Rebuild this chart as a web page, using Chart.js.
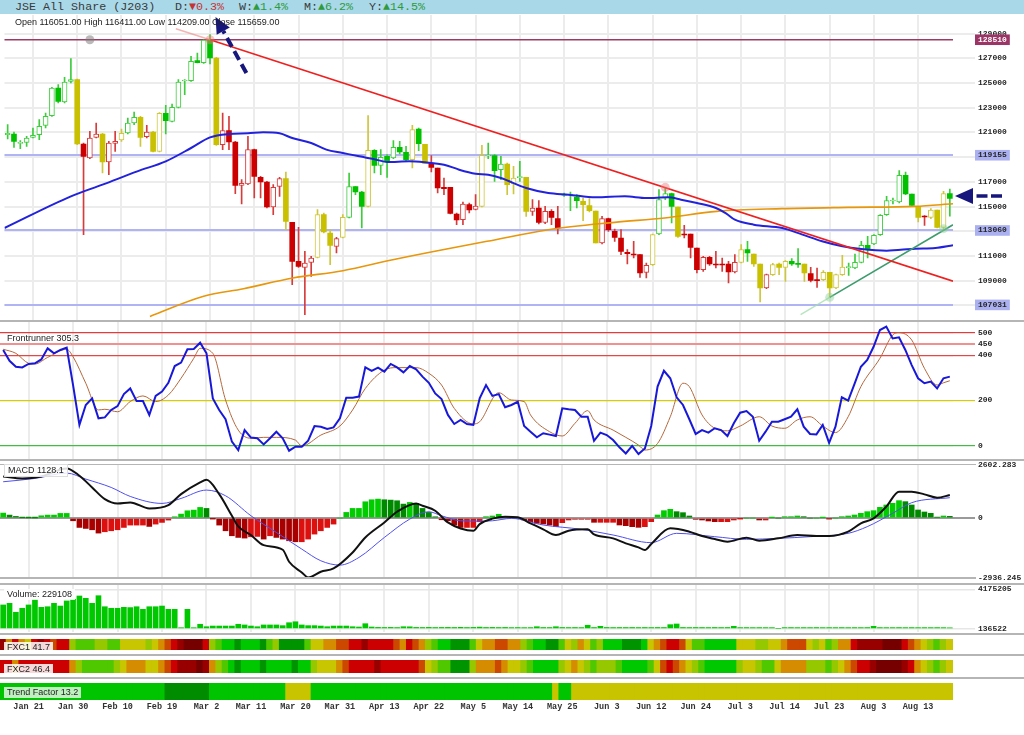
<!DOCTYPE html>
<html lang="en">
<head>
<meta charset="utf-8">
<title>JSE All Share (J203)</title>
<script src="https://cdn.jsdelivr.net/npm/chart.js@4.4.1/dist/chart.umd.min.js"></script>
<style>
  html, body { margin: 0; padding: 0; background: #fff; }
  #wrap { position: relative; width: 1024px; height: 735px; overflow: hidden; }
  #wrap canvas { position: absolute; left: 0; z-index: 2; }
  #header { position: absolute; left: 0; top: 0; width: 1024px; height: 14px; background: #a9d8e8; z-index: 5;
            font: 11.7px "Liberation Mono", "DejaVu Sans Mono", monospace; color: #3a3a3a; }
  #header > span { position: absolute; top: 0; line-height: 14px; white-space: pre; }
  #header .dn { color: #c83232; }
  #header .up { color: #2f9a3c; }
  #ohlc { position: absolute; left: 15px; top: 16px; z-index: 3; font: 9px "Liberation Sans", Arial, sans-serif;
          line-height: 12px; color: #222; white-space: pre; }
  .sep { position: absolute; left: 0; width: 1024px; height: 2px; background: #b5b5b5; z-index: 3; }
  .sep.short { width: 976px; }
  .tag { position: absolute; left: 4px; z-index: 4; padding: 0 3px; font: 9px "Liberation Sans", Arial, sans-serif;
         line-height: 11px; color: #222; white-space: pre; background: rgba(255,255,255,0.85); }
</style>
</head>
<body>
<div id="wrap">
  <div id="header"><span style="left:15px">JSE All Share (J203)</span><span style="left:175px">D:<span class="dn">▼0.3%</span></span><span style="left:239px">W:<span class="up">▲1.4%</span></span><span style="left:304px">M:<span class="up">▲6.2%</span></span><span style="left:369px">Y:<span class="up">▲14.5%</span></span></div>
  <div id="ohlc">Open 116051.00 High 116411.00 Low 114209.00 Close 115659.00</div>

  <canvas id="main"></canvas>
  <canvas id="fr"></canvas>
  <canvas id="macd"></canvas>
  <canvas id="vol"></canvas>
  <canvas id="fxc1"></canvas>
  <canvas id="fxc2"></canvas>
  <canvas id="trend"></canvas>

  <div class="sep" style="top:320px"></div>
  <div class="sep" style="top:459px"></div>
  <div class="sep short" style="top:463.5px;height:1.5px"></div>
  <div class="sep short" style="top:577px"></div>
  <div class="sep" style="top:582.5px"></div>
  <div class="sep" style="top:633px"></div>
  <div class="sep" style="top:654px"></div>
  <div class="sep" style="top:677px"></div>

  <div class="tag" style="top:333px;background:transparent">Frontrunner 305.3</div>
  <div class="tag" style="top:464px;border:1px solid #ddd">MACD 1128.1</div>
  <div class="tag" style="top:588.5px">Volume: 229108</div>
  <div class="tag" style="top:642px">FXC1 41.7</div>
  <div class="tag" style="top:664px">FXC2 46.4</div>
  <div class="tag" style="top:686.5px;background:rgba(255,255,255,0.75)">Trend Factor 13.2</div>
</div>

<script>
'use strict';

// Trading days (JSE, 2015)
// --------------------------------------------------------------------
const tradingDays = [
  ['Jan', [15, 16, 19, 20, 21, 22, 23, 26, 27, 28, 29, 30]],
  ['Feb', [2, 3, 4, 5, 6, 9, 10, 11, 12, 13, 16, 17, 18, 19, 20, 23, 24, 25, 26, 27]],
  ['Mar', [2, 3, 4, 5, 6, 9, 10, 11, 12, 13, 16, 17, 18, 19, 20, 23, 24, 25, 26, 27, 30, 31]],
  ['Apr', [1, 2, 7, 8, 9, 10, 13, 14, 15, 16, 17, 20, 21, 22, 23, 24, 28, 29, 30]],
  ['May', [4, 5, 6, 7, 8, 11, 12, 13, 14, 15, 18, 19, 20, 21, 22, 25, 26, 27, 28, 29]],
  ['Jun', [1, 2, 3, 4, 5, 8, 9, 10, 11, 12, 15, 17, 18, 19, 22, 23, 24, 25, 26, 29, 30]],
  ['Jul', [1, 2, 3, 6, 7, 8, 9, 10, 13, 14, 15, 16, 17, 20, 21, 22, 23, 24, 27, 28, 29, 30, 31]],
  ['Aug', [3, 4, 5, 6, 7, 11, 12, 13, 14, 17, 18, 19, 20]]
];
const dates = tradingDays.flatMap(([m, days]) => days.map(d => m + ' ' + d));

const tickLabels = ['Jan 21', 'Jan 30', 'Feb 10', 'Feb 19', 'Mar 2', 'Mar 11', 'Mar 20', 'Mar 31',
  'Apr 13', 'Apr 22', 'May 5', 'May 14', 'May 25', 'Jun 3', 'Jun 12', 'Jun 24', 'Jul 3',
  'Jul 14', 'Jul 23', 'Aug 3', 'Aug 13'];

// Price panel
// --------------------------------------------------------------------
const priceTicks = [107000, 109000, 111000, 113000, 115000, 117000, 119000, 121000, 123000, 125000, 127000, 129000];
const priceLevels = [128510, 119155, 113060, 107031];

const opens = [
  120820, 120874, 120118, 120199, 120604, 120820, 121576, 122359, 124600, 123466,
  125140, 125275, 120064, 118930, 120604, 120874, 118606, 120118, 120388, 120955,
  121765, 122224, 120658, 121036, 119470, 122548, 121900, 123034, 125167, 125194,
  126814, 126652, 128480, 127030, 120010, 121144, 120226, 116716, 116824, 119605,
  117364, 116986, 114961, 116635, 117256, 113719, 110560, 110074, 110479, 110884,
  114340, 112855, 111775, 112504, 114124, 116608, 116176, 115015, 119551, 118336,
  119065, 118930, 119794, 119389, 118795, 121279, 120037, 118498, 118120, 116554,
  116554, 114394, 113935, 115150, 114772, 115015, 119092, 119119, 117985, 118444,
  116824, 117337, 117364, 114610, 114880, 113719, 114610, 114016, 115906, 115933,
  115771, 115420, 115069, 114637, 112045, 114016, 112990, 112450, 111289, 111127,
  111100, 109669, 110290, 112774, 115690, 116041, 114961, 112747, 112774, 111640,
  109885, 110884, 110317, 110317, 110344, 109696, 110479, 111505, 111154, 110344,
  108400, 109480, 110344, 110074, 110560, 110371, 110344, 109561, 109048, 109075,
  109669, 108400, 109480, 110047, 110020, 110479, 111856, 111964, 112720, 114340,
  115447, 115366, 117526, 116014, 115015, 114205, 114124, 114718, 113314, 116051
];
const highs = [
  121630, 121036, 120334, 120685, 121360, 122035, 122575, 124654, 124870, 125464,
  126976, 125329, 120145, 121090, 121765, 120928, 120280, 121090, 121279, 122170,
  122656, 122305, 121576, 121090, 122602, 123196, 123304, 125275, 125275, 127165,
  127435, 128510, 128920, 127084, 122575, 122305, 120280, 117175, 120685, 119659,
  117445, 117040, 116770, 117364, 117796, 113719, 113314, 111370, 110965, 114745,
  114475, 113125, 112504, 114340, 117715, 116608, 116230, 122359, 119605, 119605,
  119200, 120334, 120280, 119875, 121576, 121360, 120037, 119119, 118120, 117310,
  116554, 114475, 115366, 115285, 115960, 119956, 120145, 119200, 119065, 118525,
  118255, 118660, 117364, 115555, 115474, 115015, 114745, 115015, 116095, 116176,
  115960, 115690, 115636, 114637, 114205, 114070, 113179, 113125, 111505, 112180,
  111100, 110425, 112774, 116365, 116554, 116095, 114961, 113476, 112774, 111640,
  110965, 110965, 111370, 110830, 110560, 111100, 111910, 112180, 111154, 110344,
  109534, 110398, 110425, 110614, 110776, 111586, 110344, 110074, 110020, 109804,
  109669, 109534, 111046, 110425, 111154, 112180, 112585, 112720, 114340, 115825,
  115690, 117904, 117796, 116014, 115015, 114259, 114826, 114718, 116230, 116411
];
const lows = [
  120469, 119794, 119686, 119875, 120550, 120415, 121360, 122305, 123385, 123385,
  125005, 120010, 112720, 118876, 120550, 117715, 117580, 119470, 120280, 120874,
  121630, 119875, 120550, 119416, 119416, 120874, 121846, 122980, 124060, 125140,
  126625, 126598, 126544, 119956, 119605, 119605, 116041, 115204, 116770, 115690,
  115690, 114880, 114340, 115825, 113125, 108670, 110074, 106240, 109345, 110830,
  112855, 110290, 111235, 112450, 114070, 115960, 113260, 114961, 117715, 117580,
  117364, 118876, 119254, 118714, 118120, 119524, 118498, 117796, 116095, 115960,
  114394, 113530, 113530, 114475, 114718, 114961, 118876, 117040, 117175, 115960,
  116014, 117040, 114205, 114286, 113584, 113611, 113530, 112774, 115825, 114664,
  114880, 113854, 114556, 112045, 111964, 112990, 112180, 111100, 110344, 110830,
  109264, 109210, 110236, 112720, 115555, 113665, 112504, 112450, 110830, 109615,
  109750, 110236, 110020, 109750, 108805, 109615, 110425, 110560, 110155, 107266,
  108346, 109426, 109480, 108940, 110236, 110074, 108940, 108886, 108454, 108994,
  107644, 108346, 109426, 109426, 109966, 110425, 110830, 111910, 112666, 114286,
  115204, 115285, 115960, 115015, 113746, 113476, 114016, 113260, 113206, 114209
];
const closes = [
  120928, 120280, 120172, 120550, 120766, 121495, 122305, 124600, 123520, 125086,
  125275, 120064, 119065, 120550, 120874, 118606, 120145, 120280, 120928, 121765,
  122224, 120604, 121036, 119470, 122548, 121954, 123034, 125086, 125248, 126760,
  126652, 128480, 127030, 120010, 121144, 120226, 116716, 116878, 119605, 117445,
  116986, 114961, 116554, 117256, 113800, 110560, 110155, 110425, 110830, 114340,
  112936, 111856, 112396, 114124, 116608, 116176, 115015, 119551, 118336, 118984,
  118660, 119794, 119416, 118795, 121225, 120091, 118498, 118174, 116500, 116446,
  114448, 113908, 115204, 114718, 115042, 119146, 119146, 117904, 118444, 116770,
  117310, 117391, 114610, 114880, 113719, 114610, 114124, 113260, 116014, 115987,
  115474, 115150, 114664, 112045, 114016, 113125, 112504, 111370, 111181, 111073,
  109615, 110236, 112720, 115555, 116041, 115015, 112585, 112693, 111694, 109885,
  110884, 110344, 110263, 110263, 109696, 110479, 111505, 111235, 110344, 108400,
  109480, 110290, 110074, 110560, 110344, 110317, 109615, 109021, 108994, 109669,
  108400, 109480, 110101, 110101, 110479, 111856, 111559, 112666, 114286, 115474,
  115501, 117526, 116014, 115096, 114124, 114151, 114718, 113314, 116041, 115659
];
// candle state per bar: g = bullish, r = bearish, y = neutral
const candleTrend = (
  'ggggggggggg' + 'yrrryrrygg' + 'yryygggggg' + 'ggyrrrrrrr' + 'rrryrrrryy' +
  'yrygggyggg' + 'gggygyrrrr' + 'rrrrygggyy' + 'gyrrrrrggg' + 'yyyrrrrrrr' +
  'rygggyrrrr' + 'rrrrrygyyr' + 'yyyggyrryy' + 'yygggggggg' + 'gggyryyyg'
).split('');

// moving averages, [bar, value]
const ma50 = [[-0.5, 113260], [10, 115825], [15, 116770], [20.5, 117850], [25, 118660], [29, 119740],
  [32, 120604], [35, 120874], [38, 120928], [40.4, 121009], [43, 120928], [45, 120550], [48, 120145],
  [50.4, 119605], [53, 119335], [55.6, 119065], [58.3, 118795], [60, 118606], [63.5, 118660],
  [66, 118579], [69, 118390], [71.4, 117985], [74, 117661], [76, 117580], [78, 117310], [82, 116500],
  [85.5, 116095], [88.7, 115960], [93, 115744], [97.6, 115825], [101, 115690], [104.4, 115744],
  [106.5, 115555], [109, 115285], [112, 114880], [113.6, 114450], [115, 113935], [118, 113530],
  [122.5, 113260], [125.7, 112720], [128.8, 112180], [132, 111775], [135, 111559], [139, 111424],
  [143.5, 111586], [146.7, 111640], [149.5, 111860]];
const ma200 = [[22.5, 106100], [31, 107725], [37.3, 108346], [45.1, 109210], [53, 109804],
  [60.9, 110695], [68.8, 111505], [75.8, 112180], [85.5, 113125], [96, 113719], [103.9, 114070],
  [112.1, 114610], [122.5, 114826], [133, 114934], [143.5, 115015], [149.5, 115220]];

// drawn trend lines and their anchor points
const highTrendFaded = [[26.6, 129400], [32, 128510]];
const highTrend = [[32, 128510], [149.5, 108950]];
const lowTrendFaded = [[125.4, 106240], [130, 107644]];
const lowTrend = [[130, 107644], [149.5, 113520]];
const levelAnchor = [[13, 128510]];
const highAnchors = [[32, 128510], [104, 116554]];
const lowAnchors = [[130, 107644], [148, 113206]];

// Frontrunner panel
// --------------------------------------------------------------------
const frTicks = [0, 200, 400, 450, 500];
const frontrunner = [
  423, 375, 349, 346, 361, 364, 381, 430, 408, 423,
  433, 268, 92, 180, 209, 121, 125, 158, 175, 228,
  253, 197, 197, 136, 220, 239, 278, 352, 367, 426,
  427, 455, 408, 209, 158, 117, 18, -19, 69, 36,
  33, 6, 33, 62, 33, -22, -4, -4, 22, 87,
  84, 74, 81, 121, 212, 212, 217, 346, 331, 345,
  327, 361, 346, 324, 352, 337, 305, 278, 231, 206,
  136, 96, 114, 96, 92, 209, 268, 220, 228, 170,
  180, 194, 87, 62, 37, 55, 49, 43, 165, 161,
  158, 128, 128, 22, 58, 47, 25, -7, -34, -1,
  -37, -12, 87, 261, 331, 298, 214, 180, 117, 52,
  69, 58, 77, 69, 43, 99, 146, 153, 128, 22,
  62, 106, 106, 117, 128, 161, 84, 52, 50, 92,
  13, 84, 214, 199, 273, 349, 379, 437, 511, 526,
  474, 479, 423, 356, 298, 276, 283, 253, 298, 305.3
];
const frontrunnerSignal = [[0, 426], [2, 408], [4, 364], [5, 361], [7, 390], [10, 426], [11, 393],
  [13, 276], [15, 158], [16, 161], [18, 150], [20, 195], [22, 220], [24, 195], [26, 224], [28, 298],
  [30, 386], [31, 430], [33, 408], [35, 202], [37, 69], [39, 33], [41, 37], [43, 37], [46, 25],
  [47, -1], [50, 47], [53, 87], [55, 158], [57, 253], [60, 334], [62, 345], [65, 345], [67, 320],
  [69, 268], [71, 165], [74, 96], [75, 106], [78, 234], [80, 202], [82, 195], [83, 136], [86, 62],
  [88, 43], [90, 99], [92, 155], [93, 114], [96, 69], [98, 37], [100, 3], [101, -19], [103, 10],
  [105, 128], [107, 276], [108, 261], [110, 136], [112, 77], [114, 66], [116, 87], [119, 128],
  [121, 87], [123, 77], [125, 114], [127, 128], [129, 87], [131, 58], [133, 128], [135, 261],
  [138, 386], [140, 489], [141, 499], [143, 467], [145, 342], [147, 268], [148, 278], [149, 287]];

// MACD panel
// --------------------------------------------------------------------
const macdTicks = [-2936.245, 0, 2602.283];
const macdLine = [[0, 2042], [3, 1944], [6, 2042], [10, 2435], [12, 2075], [14, 1503], [16, 931],
  [18, 719], [20, 768], [23, 474], [26, 637], [28, 1176], [31, 1748], [32, 1879], [34, 1176],
  [36, 114], [37, -408], [39, -833], [41, -1324], [44, -1552], [45, -2141], [47, -2663], [48, -2909],
  [50, -2631], [52, -2467], [55, -1683], [57, -948], [60, -212], [62, 310], [65, 719], [66, 605],
  [68, 359], [70, -212], [72, -507], [74, -621], [75, -294], [77, -28], [79, 70], [81, 38],
  [83, -257], [85, -551], [87, -829], [89, -616], [92, -551], [93, -796], [96, -992], [98, -1237],
  [100, -1433], [101, -1564], [102, -1270], [105, -502], [108, -665], [110, -878], [112, -1025],
  [114, -1155], [117, -959], [119, -1106], [122, -992], [125, -829], [128, -878], [130, -878],
  [133, -665], [135, -257], [137, -12], [139, 560], [141, 1294], [143, 1294], [145, 1163],
  [147, 1000], [149, 1128]];
const macdSignal = [[0, 1781], [5, 1944], [10, 2206], [13, 1912], [17, 1503], [20, 1062], [25, 719],
  [28, 964], [32, 1373], [35, 1095], [39, 114], [43, -703], [47, -1520], [50, -2092], [53, -2304],
  [56, -1928], [60, -948], [64, -49], [67, 310], [69, 114], [72, -131], [75, -150], [77, -131],
  [80, -16], [85, -339], [91, -551], [96, -829], [102, -1205], [106, -747], [112, -911],
  [117, -1041], [122, -992], [127, -911], [133, -747], [136, -420], [140, 233], [143, 756],
  [149, 1000]];
const macdHist = [
  245, 147, 82, 16, 10, 5, 114, 147, 147, 229,
  229, -131, -458, -507, -572, -735, -670, -621, -572, -458,
  -343, -343, -343, -409, -294, -212, -98, 65, 196, 359,
  392, 523, 474, -16, -343, -621, -866, -948, -980, -915,
  -899, -1029, -866, -948, -1029, -1111, -1160, -1160, -1029, -784,
  -621, -458, -294, 0, 278, 474, 474, 801, 899, 931,
  899, 882, 850, 686, 768, 719, 474, 278, 65, -82,
  -131, -343, -458, -458, -458, -180, 70, 103, 185, 70,
  38, 0, -93, -175, -256, -289, -338, -420, -224, -93,
  -60, -60, -60, -207, -207, -207, -207, -338, -371, -420,
  -453, -420, -175, 152, 364, 430, 315, 266, 103, -60,
  -93, -142, -175, -175, -175, -93, -11, 0, 0, -93,
  -93, 21, 0, 70, 70, 103, 70, 0, 0, 21,
  -28, 0, 70, 103, 152, 234, 315, 364, 528, 642,
  724, 855, 806, 642, 397, 299, 234, 38, 103, 87
];

// Volume panel
// --------------------------------------------------------------------
const volumeTicks = [136522, 4175205];
const volume = [
  2570000, 2740000, 1820000, 2230000, 2570000, 3150000, 2330000, 2390000, 2740000, 2460000,
  2980000, 3150000, 3490000, 3250000, 2740000, 3520000, 2390000, 2230000, 2230000, 2330000,
  2300000, 2390000, 2120000, 2390000, 2390000, 2460000, 2120000, 2120000, 240000, 2120000,
  240000, 590000, 340000, 410000, 410000, 410000, 410000, 590000, 520000, 410000,
  340000, 520000, 520000, 520000, 450000, 750000, 850000, 520000, 450000, 450000,
  410000, 340000, 410000, 410000, 410000, 340000, 310000, 650000, 310000, 270000,
  262000, 270000, 255000, 340000, 330000, 268000, 260000, 272000, 258000, 266000,
  270000, 262000, 275000, 258000, 270000, 300000, 262000, 270000, 258000, 266000,
  250000, 256000, 248000, 252000, 340000, 260000, 258000, 340000, 262000, 256000,
  260000, 252000, 490000, 258000, 380000, 262000, 255000, 260000, 258000, 262000,
  256000, 260000, 254000, 262000, 258000, 550000, 620000, 262000, 256000, 260000,
  258000, 254000, 262000, 256000, 260000, 380000, 250000, 254000, 248000, 252000,
  250000, 246000, 136522, 250000, 254000, 248000, 252000, 250000, 256000, 248000,
  252000, 250000, 254000, 248000, 252000, 250000, 254000, 380000, 252000, 248000,
  250000, 254000, 248000, 252000, 246000, 250000, 248000, 252000, 246000, 229108
];

// FXC heat strips (0 = deep red ... 9 = deep green) and trend factor state
// --------------------------------------------------------------------
const fxc1 = [
  1, 4, 2, 4, 5, 2, 1, 2, 3, 2,
  2, 6, 7, 7, 7, 6, 6, 7, 7, 5,
  5, 5, 5, 6, 5, 4, 3, 2, 1, 0,
  0, 0, 2, 6, 7, 8, 8, 9, 8, 8,
  8, 9, 7, 6, 9, 9, 9, 9, 7, 5,
  5, 4, 4, 3, 3, 2, 2, 1, 2, 2,
  2, 2, 3, 4, 2, 3, 4, 6, 7, 8,
  8, 9, 9, 9, 7, 5, 4, 4, 3, 3,
  4, 4, 6, 7, 8, 8, 9, 9, 7, 5,
  6, 4, 5, 7, 6, 8, 8, 8, 9, 9,
  9, 8, 5, 4, 3, 2, 2, 3, 5, 7,
  7, 8, 8, 8, 8, 8, 5, 5, 5, 6,
  6, 5, 5, 4, 3, 3, 3, 5, 6, 5,
  7, 6, 4, 4, 2, 1, 1, 1, 1, 0,
  0, 0, 2, 3, 4, 5, 6, 7, 6, 5
];
const fxc2 = [
  2, 2, 4, 2, 2, 2, 2, 2, 2, 2,
  2, 4, 6, 7, 7, 7, 7, 7, 6, 5,
  4, 4, 4, 5, 5, 4, 3, 2, 1, 1,
  1, 0, 1, 4, 6, 7, 8, 9, 8, 8,
  8, 9, 8, 8, 8, 8, 9, 8, 8, 6,
  5, 5, 5, 4, 3, 2, 2, 2, 2, 1,
  2, 2, 2, 2, 2, 2, 3, 5, 6, 7,
  7, 9, 9, 9, 6, 4, 4, 4, 3, 4,
  5, 5, 6, 7, 8, 8, 8, 8, 6, 5,
  4, 5, 6, 7, 6, 6, 6, 7, 8, 8,
  8, 8, 7, 5, 3, 2, 3, 4, 5, 6,
  7, 8, 8, 8, 8, 8, 6, 5, 5, 6,
  7, 7, 5, 4, 4, 4, 4, 6, 6, 6,
  7, 6, 5, 4, 3, 2, 2, 1, 0, 0,
  0, 0, 1, 2, 4, 5, 6, 7, 6, 5
];
// 0 = neutral, 1 = up, 2 = strong up
const trendFactor = [
  1, 1, 1, 1, 1, 1, 1, 1, 1, 1,
  1, 1, 1, 1, 1, 1, 1, 1, 1, 1,
  1, 1, 1, 1, 1, 1, 2, 2, 2, 2,
  2, 2, 2, 1, 1, 1, 1, 1, 1, 1,
  1, 1, 1, 1, 1, 0, 0, 0, 0, 1,
  1, 1, 1, 1, 1, 1, 1, 1, 1, 1,
  1, 1, 1, 1, 1, 1, 1, 1, 1, 1,
  1, 1, 1, 1, 1, 1, 1, 1, 1, 1,
  1, 1, 1, 1, 1, 1, 1, 0, 1, 1,
  0, 0, 0, 0, 0, 0, 0, 0, 0, 0,
  0, 0, 0, 0, 0, 0, 0, 0, 0, 0,
  0, 0, 0, 0, 0, 0, 0, 0, 0, 0,
  0, 0, 0, 0, 0, 0, 0, 0, 0, 0,
  0, 0, 0, 0, 0, 0, 0, 0, 0, 0,
  0, 0, 0, 0, 0, 0, 0, 0, 0, 0
];

// Layout / style
// --------------------------------------------------------------------
const AXIS_W = 71;
const PAD = 6;
const mono = '"Liberation Mono", "DejaVu Sans Mono", monospace';
const gridColor = '#ececec';
const clear = 'rgba(0,0,0,0)';
const candleFill = { g: '#00c000', r: '#cc0000', y: '#c8c000' };
const candleLine = { g: '#3ccc3c', r: '#d63c3c', y: '#cec63c' };
const heatPalette = ['#760000', '#980000', '#cc0000', '#cc4800', '#d68c00', '#c8c600', '#96c800', '#50c800', '#00c800', '#009400'];
const trendPalette = ['#c8c400', '#00c400', '#008c00'];
const tickIndex = tickLabels.map(l => dates.indexOf(l));
const lastBar = dates.length - 1;

Chart.defaults.font.family = '"Liberation Sans", Arial, sans-serif';

const pts = arr => arr.map(([x, y]) => ({ x, y }));
const series = arr => arr.map((y, x) => ({ x, y }));

function panel(id, top, height) {
  const c = document.getElementById(id);
  c.width = 1024;
  c.height = height + 2 * PAD;
  c.style.top = (top - PAD) + 'px';
  return c;
}

function baseOptions(scales, extraPadding) {
  return {
    responsive: false,
    animation: false,
    events: [],
    layout: { padding: Object.assign({ top: PAD, bottom: PAD, left: 0, right: 0 }, extraPadding) },
    plugins: { legend: { display: false }, tooltip: { enabled: false } },
    scales: scales
  };
}

function xScale(extra) {
  return Object.assign({
    type: 'linear', min: -0.5, max: dates.length - 0.5, offset: false, bounds: 'data',
    afterBuildTicks: s => { s.ticks = tickIndex.map(v => ({ value: v })); },
    ticks: { display: false, autoSkip: false },
    grid: { color: gridColor, lineWidth: 2, drawTicks: false, offset: false },
    border: { display: false }
  }, extra);
}

function yScale(min, max, values, o) {
  o = o || {};
  return {
    position: 'right', min: min, max: max, bounds: 'data',
    afterBuildTicks: s => { s.ticks = values.map(v => ({ value: v })); },
    afterFit: s => { s.width = AXIS_W; s.paddingTop = 0; s.paddingBottom = 0; },
    ticks: Object.assign({
      autoSkip: false, padding: 3, color: '#262626',
      font: { family: mono, size: 8, weight: 'bold' },
      callback: v => String(v)
    }, o.ticks),
    grid: Object.assign({ color: gridColor, lineWidth: 2, drawTicks: true, tickLength: 22 }, o.grid),
    border: { display: false }
  };
}

function lineSet(data, color, width, order, smooth) {
  return {
    type: 'line', data: data, borderColor: color, borderWidth: width, pointRadius: 0,
    cubicInterpolationMode: smooth ? 'monotone' : 'default', tension: 0, order: order
  };
}

function markerSet(data, color) {
  return {
    type: 'line', data: pts(data), showLine: false, pointRadius: 4.5,
    pointBackgroundColor: color, pointBorderWidth: 0, order: 0
  };
}

// Dashed arrows drawn by the analyst
// --------------------------------------------------------------------
function dashedArrow(ctx, x0, y0, x1, y1, head, half, width, dash) {
  const a = Math.atan2(y1 - y0, x1 - x0);
  const bx = x1 - head * Math.cos(a), by = y1 - head * Math.sin(a);
  ctx.save();
  ctx.strokeStyle = ctx.fillStyle = '#16167c';
  ctx.lineWidth = width;
  ctx.setLineDash(dash);
  ctx.beginPath();
  ctx.moveTo(x0, y0);
  ctx.lineTo(bx, by);
  ctx.stroke();
  ctx.setLineDash([]);
  ctx.beginPath();
  ctx.moveTo(x1, y1);
  ctx.lineTo(bx + half * Math.sin(a), by - half * Math.cos(a));
  ctx.lineTo(bx - half * Math.sin(a), by + half * Math.cos(a));
  ctx.closePath();
  ctx.fill();
  ctx.restore();
}

const arrowPlugin = {
  id: 'arrows',
  afterDraw(chart) {
    const { ctx, chartArea, scales: { x, y } } = chart;
    // pointing at the top
    dashedArrow(ctx, x.getPixelForValue(37.75), y.getPixelForValue(125815),
      x.getPixelForValue(32.87), y.getPixelForValue(130350), 16, 7.5, 4, [10, 5]);
    // pointing at the last price
    const py = y.getPixelForValue((opens[lastBar] + closes[lastBar]) / 2);
    dashedArrow(ctx, chartArea.right + 49, py, chartArea.right + 2, py, 18, 8, 3.5, [11, 3.5]);
  }
};

// Price chart
// --------------------------------------------------------------------
const bull = i => closes[i] >= opens[i];
const levelColor = v => v === 128510 ? '#9c3a64' : (priceLevels.includes(v) ? '#b0b4f4' : gridColor);

new Chart(panel('main', 15, 306), {
  type: 'bar',
  data: {
    datasets: [
      markerSet(levelAnchor, 'rgba(130,130,130,0.55)'),
      markerSet(highAnchors, 'rgba(240,120,120,0.45)'),
      markerSet(lowAnchors, 'rgba(140,210,150,0.45)'),
      lineSet(pts(highTrendFaded), 'rgba(240,140,140,0.65)', 1.5, 1),
      lineSet(pts(highTrend), '#ee2020', 1.6, 1),
      lineSet(pts(lowTrendFaded), 'rgba(160,220,170,0.75)', 1.5, 1),
      lineSet(pts(lowTrend), '#3c9c6c', 1.6, 1),
      lineSet(pts(ma50), '#2222dc', 2, 2, true),
      lineSet(pts(ma200), '#e8960a', 1.6, 3, true),
      {
        data: dates.map((d, i) => ({ x: i, y: [opens[i], closes[i]] })),
        backgroundColor: dates.map((d, i) => bull(i) ? '#ffffff' : candleFill[candleTrend[i]]),
        borderColor: dates.map((d, i) => bull(i) ? candleLine[candleTrend[i]] : candleFill[candleTrend[i]]),
        borderWidth: dates.map((d, i) => bull(i) ? 1 : 0),
        borderSkipped: false, barThickness: 5, grouped: false, minBarLength: 1, order: 9
      },
      {
        data: dates.map((d, i) => ({ x: i, y: [lows[i], highs[i]] })),
        backgroundColor: candleTrend.map(k => candleLine[k]),
        borderWidth: 0, barThickness: 1, grouped: false, order: 10
      }
    ]
  },
  options: baseOptions({
    x: xScale(),
    y: yScale(105727, 130513, priceTicks.concat(priceLevels), {
      ticks: {
        callback: v => (!priceLevels.includes(v) && priceLevels.some(l => Math.abs(l - v) < 250)) ? '' : String(v),
        color: c => c.tick && c.tick.value === 128510 ? '#ffffff' : '#262626',
        showLabelBackdrop: c => !!c.tick && priceLevels.includes(c.tick.value),
        backdropColor: c => c.tick && c.tick.value === 128510 ? '#9b3565' : '#aab0f0',
        backdropPadding: { x: 3, y: 0.5 }
      },
      grid: {
        color: c => c.tick ? levelColor(c.tick.value) : clear,
        lineWidth: c => c.tick && c.tick.value === 128510 ? 1.5 : 2,
        tickColor: c => c.tick && priceLevels.includes(c.tick.value) ? clear : gridColor
      }
    })
  }),
  plugins: [arrowPlugin]
});

// Frontrunner chart
// --------------------------------------------------------------------
const frLevelColor = { 0: '#44bb44', 200: '#d4cc10', 400: '#e24848', 450: '#f09090', 500: '#e23c3c' };

new Chart(panel('fr', 322, 137), {
  type: 'line',
  data: {
    datasets: [
      lineSet(series(frontrunner), '#1818d8', 2, 1),
      lineSet(pts(frontrunnerSignal), '#b4683c', 1, 2, true)
    ]
  },
  options: baseOptions({
    x: xScale(),
    y: yScale(-58.6, 546.4, frTicks, {
      grid: {
        color: c => c.tick ? frLevelColor[c.tick.value] : clear,
        lineWidth: c => c.tick && c.tick.value === 450 ? 2 : 1.2
      }
    })
  })
});

// MACD chart
// --------------------------------------------------------------------
const histColors = macdHist.map((v, i) => {
  const prev = i ? macdHist[i - 1] : v;
  if (v >= 0) return v >= prev ? '#00cc00' : '#008a00';
  return v < prev ? '#a80000' : '#dd1010';
});

new Chart(panel('macd', 465, 113), {
  type: 'bar',
  data: {
    datasets: [
      lineSet(pts(macdLine), '#111111', 2, 1, true),
      lineSet(pts(macdSignal), '#5050ee', 1, 2, true),
      { data: series(macdHist), backgroundColor: histColors, barThickness: 5, borderWidth: 0, order: 3 }
    ]
  },
  options: baseOptions({
    x: xScale(),
    y: yScale(macdTicks[0], macdTicks[2], macdTicks, {
      grid: { color: c => c.tick && c.tick.value === 0 ? '#9a9a9a' : clear, lineWidth: 2 }
    })
  })
});

// Volume chart
// --------------------------------------------------------------------
new Chart(panel('vol', 585, 47), {
  type: 'bar',
  data: {
    datasets: [{
      data: series(volume), backgroundColor: '#00c800', barThickness: 5, borderWidth: 0,
      base: volumeTicks[0]
    }]
  },
  options: baseOptions({
    x: xScale(),
    y: yScale(-201745, 4615977, volumeTicks, { grid: { color: '#e6e6e6', lineWidth: 1.5 } })
  })
});

// Heat strips
// --------------------------------------------------------------------
function strip(id, top, height, values, palette, labelled) {
  const x = labelled
    ? xScale({
        ticks: {
          display: true, autoSkip: false, maxRotation: 0, padding: 2, color: '#333',
          font: { family: mono, size: 8.5, weight: 'bold' }, callback: v => dates[v]
        },
        grid: { display: false, drawTicks: false },
        afterFit: s => { s.height = 14; }
      })
    : xScale({ display: false });
  const c = panel(id, top, height);
  if (labelled) c.height += 14 + 15;
  new Chart(c, {
    type: 'bar',
    data: {
      datasets: [{
        data: values.map((v, i) => ({ x: i, y: [0, 1] })),
        backgroundColor: values.map(v => palette[v]),
        borderWidth: 0, barThickness: 7, grouped: false, clip: 0
      }]
    },
    options: baseOptions({ x: x, y: { display: false, min: 0, max: 1 } },
      { right: AXIS_W, bottom: labelled ? PAD + 15 : PAD })
  });
}

strip('fxc1', 639, 11, fxc1, heatPalette, false);
strip('fxc2', 660, 13, fxc2, heatPalette, false);
strip('trend', 683, 17, trendFactor, trendPalette, true);
</script>
</body>
</html>
